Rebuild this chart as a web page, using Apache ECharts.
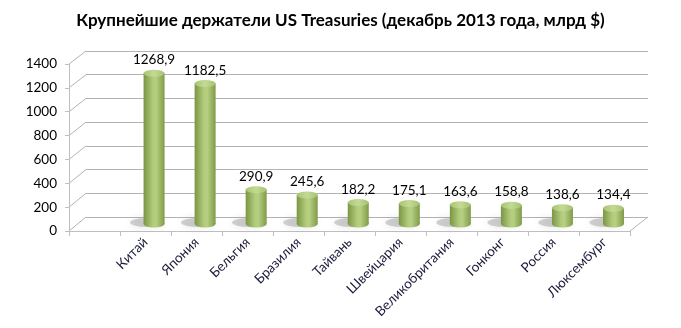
<!DOCTYPE html>
<html><head><meta charset="utf-8">
<script src="https://cdn.jsdelivr.net/npm/echarts@6/dist/echarts.min.js"></script>
<style>html,body{margin:0;padding:0;background:#fff}#c{width:681px;height:328px}</style>
</head><body><div id="c"></div>
<script>
const titleText = 'Крупнейшие держатели US Treasuries (декабрь 2013 года, млрд $)';
const categories = ['', 'Китай', 'Япония', 'Бельгия', 'Бразилия', 'Тайвань', 'Швейцария', 'Великобритания', 'Гонконг', 'Россия', 'Люксембург'];
const values = ['-', 1268.9, 1182.5, 290.9, 245.6, 182.2, 175.1, 163.6, 158.8, 138.6, 134.4];
const yTicks = [0, 200, 400, 600, 800, 1000, 1200, 1400];

const FONT = 'Lato, "Open Sans", sans-serif';
const chart = echarts.init(document.getElementById('c'), null, {renderer: 'canvas'});
const yMin = yTicks[0], yMax = yTicks[yTicks.length - 1], yStep = yTicks[1] - yTicks[0];
const fmt = v => String(v).replace('.', ',');

const barGrad = new echarts.graphic.LinearGradient(0, 0, 1, 0, [
  {offset: 0, color: '#7a9644'}, {offset: 0.45, color: '#b2cc7c'},
  {offset: 0.6, color: '#b6cf82'}, {offset: 1, color: '#7f9b48'}]);
const topGrad = new echarts.graphic.LinearGradient(0, 0, 1, 0, [
  {offset: 0, color: '#a9c474'}, {offset: 0.5, color: '#c3da94'}, {offset: 1, color: '#a7c271'}]);

const baseY = {type: 'value', min: yMin, max: yMax, interval: yStep};
chart.setOption({
  animation: false,
  title: {text: titleText, left: 'center', top: 7,
    textStyle: {fontFamily: FONT, fontWeight: 'bold', fontSize: 17, color: '#000'}},
  grid: [
    {left: 69, right: 51, top: 64, bottom: 97},   // front
    {left: 86, right: 33, top: 51, bottom: 111},  // back wall
    {left: 77.5, right: 42, top: 57.5, bottom: 104} // bar plane
  ],
  xAxis: [
    {gridIndex: 0, type: 'category', data: categories, boundaryGap: true,
      axisLine: {lineStyle: {color: '#bfbfbf'}},
      axisTick: {show: true, alignWithLabel: false, length: 5, lineStyle: {color: '#bfbfbf'}},
      axisLabel: {rotate: 45, interval: 0, margin: 9, color: '#1b1b3a', fontFamily: FONT, fontSize: 13.5}},
    {gridIndex: 1, type: 'category', data: categories, show: false},
    {gridIndex: 2, type: 'category', data: categories, show: false}
  ],
  yAxis: [
    Object.assign({gridIndex: 0,
      axisLine: {show: true, lineStyle: {color: '#bfbfbf'}},
      axisTick: {show: true, length: 4, lineStyle: {color: '#bfbfbf'}},
      axisLabel: {margin: 12, color: '#000', fontFamily: FONT, fontSize: 13.5, formatter: v => String(v)},
      splitLine: {show: false}}, baseY),
    Object.assign({gridIndex: 1, axisLine: {show: false}, axisTick: {show: false},
      axisLabel: {show: false}, splitLine: {show: true, lineStyle: {color: '#b3b3b3', width: 1.2}}}, baseY),
    Object.assign({gridIndex: 2, show: false, splitLine: {show: false}}, baseY)
  ],
  series: [
    {type: 'pictorialBar', xAxisIndex: 2, yAxisIndex: 2, data: values.map(v => v === '-' ? '-' : 0),
      symbol: 'circle', symbolSize: [34, 9], symbolOffset: [-7, 3], symbolPosition: 'start', z: 1,
      itemStyle: {color: 'rgba(110,110,110,0.3)', shadowBlur: 8, shadowColor: 'rgba(0,0,0,0.35)'}, silent: true},
    {type: 'bar', xAxisIndex: 2, yAxisIndex: 2, data: values, barWidth: 21, z: 3,
      itemStyle: {color: barGrad},
      label: {show: true, position: 'top', distance: 6, color: '#000', fontFamily: FONT, fontSize: 13.5,
        formatter: p => fmt(p.value)}},
    {type: 'pictorialBar', xAxisIndex: 2, yAxisIndex: 2, data: values,
      symbol: 'circle', symbolSize: [21, 7], symbolOffset: [0, 3.5], symbolPosition: 'start', z: 2,
      itemStyle: {color: barGrad}, silent: true},
    {type: 'pictorialBar', xAxisIndex: 2, yAxisIndex: 2, data: values,
      symbol: 'circle', symbolSize: [21, 7], symbolOffset: [0, -3.5], symbolPosition: 'end', z: 4,
      itemStyle: {color: topGrad, borderColor: 'rgba(235,245,215,0.9)', borderWidth: 0.8}, silent: true}
  ]
});

// depth edges of the 3D box, derived from the axes
const lines = [];
const lineStyle = {stroke: '#b3b3b3', lineWidth: 1};
const fr = chart.getModel().getComponent('grid', 0).coordinateSystem.getRect();
const br = chart.getModel().getComponent('grid', 1).coordinateSystem.getRect();
yTicks.forEach(t => {
  const f = chart.convertToPixel({xAxisIndex: 0, yAxisIndex: 0}, [0, t]);
  const b = chart.convertToPixel({xAxisIndex: 1, yAxisIndex: 1}, [0, t]);
  lines.push({type: 'line', shape: {x1: fr.x, y1: f[1], x2: br.x, y2: b[1]}, style: lineStyle, z: 0});
});
lines.push({type: 'line', shape: {x1: fr.x + fr.width, y1: fr.y + fr.height, x2: br.x + br.width, y2: br.y + br.height}, style: lineStyle, z: 0});
chart.setOption({graphic: lines});
</script></body></html>
